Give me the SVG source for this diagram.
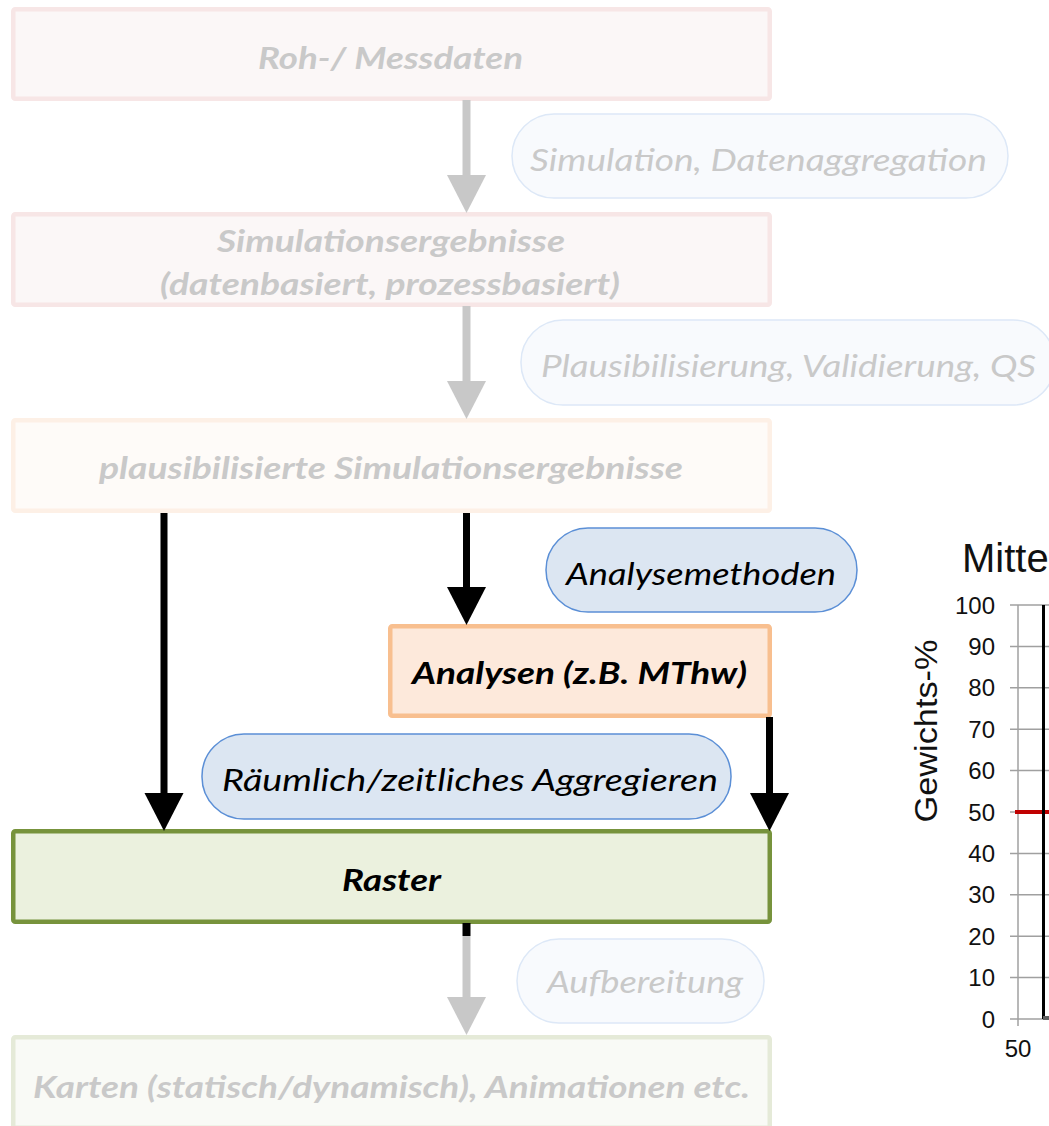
<svg xmlns="http://www.w3.org/2000/svg" width="1049" height="1126" viewBox="0 0 1049 1126">
  <style>
    .box { stroke-width: 4.5; }
    .faded-text { fill: #c9c9c9; }
    .main { font-family: Lato, "Open Sans", "Liberation Sans", sans-serif; font-style: italic; font-size: 31px; }
    .bold { font-weight: 700; }
    .pill-faded { fill: #f8fafd; stroke: #dde8f7; stroke-width: 1.5; }
    .pill { fill: #dce6f2; stroke: #5b8fd6; stroke-width: 1.5; }
    .chart { font-family: "Liberation Sans", Arial, sans-serif; fill: #111; }
    .grid { stroke: #a0a0a0; stroke-width: 1.5; }
  </style>
  <defs>
    <marker id="head-gray" markerUnits="userSpaceOnUse" markerWidth="40" markerHeight="40" refX="0" refY="19.5" orient="auto">
      <path d="M0,0 L38,19.5 L0,39 z" fill="#c8c8c8"/>
    </marker>
    <marker id="head-black" markerUnits="userSpaceOnUse" markerWidth="40" markerHeight="40" refX="0" refY="19.5" orient="auto">
      <path d="M0,0 L38,19.5 L0,39 z" fill="#000"/>
    </marker>
  </defs>

  <rect width="1049" height="1126" fill="#ffffff"/>

  <!-- process boxes -->
  <g id="node-rohdaten">
    <rect class="box" x="13.25" y="9.25" width="756.5" height="89.5" rx="2" fill="#fbf7f7" stroke="#f7e6e6"/>
    <text class="main bold faded-text" x="258" y="69" textLength="265" lengthAdjust="spacingAndGlyphs">Roh-/ Messdaten</text>
  </g>

  <g id="node-simulationsergebnisse">
    <rect class="box" x="13.25" y="214.25" width="756.5" height="90.5" rx="2" fill="#fbf7f7" stroke="#f7e6e6"/>
    <text class="main bold faded-text" x="217" y="252" textLength="348" lengthAdjust="spacingAndGlyphs">Simulationsergebnisse</text>
    <text class="main bold faded-text" x="160" y="295" textLength="460" lengthAdjust="spacingAndGlyphs">(datenbasiert, prozessbasiert)</text>
  </g>

  <g id="node-plausibilisiert">
    <rect class="box" x="13.25" y="420.25" width="756.5" height="90.5" rx="2" fill="#fefbf8" stroke="#fdf0e6"/>
    <text class="main bold faded-text" x="99" y="479" textLength="584" lengthAdjust="spacingAndGlyphs">plausibilisierte Simulationsergebnisse</text>
  </g>

  <g id="node-analysen">
    <rect class="box" x="390.25" y="626.25" width="379.5" height="89.5" rx="2" fill="#fde9db" stroke="#f8bf8f"/>
    <text class="main bold" x="412" y="684" fill="#000" textLength="335" lengthAdjust="spacingAndGlyphs">Analysen (z.B. MThw)</text>
  </g>

  <g id="node-raster">
    <rect class="box" x="13.25" y="831.25" width="756.5" height="90.5" rx="2" fill="#ebf1de" stroke="#77933c"/>
    <text class="main bold" x="342" y="891" fill="#000" textLength="99" lengthAdjust="spacingAndGlyphs">Raster</text>
  </g>

  <g id="node-karten">
    <rect class="box" x="13.25" y="1037.25" width="756.5" height="90.5" rx="2" fill="#f9faf6" stroke="#e5ead8"/>
    <text class="main bold faded-text" x="33" y="1098" textLength="717" lengthAdjust="spacingAndGlyphs">Karten (statisch/dynamisch), Animationen etc.</text>
  </g>

  <!-- step labels (rounded pills) -->
  <g id="label-simulation">
    <rect class="pill-faded" x="512" y="114" width="496" height="84" rx="42"/>
    <text class="main faded-text" x="530" y="171" textLength="457" lengthAdjust="spacingAndGlyphs">Simulation, Datenaggregation</text>
  </g>

  <g id="label-plausibilisierung">
    <rect class="pill-faded" x="521" y="320" width="534" height="85" rx="42"/>
    <text class="main faded-text" x="541" y="377" textLength="495" lengthAdjust="spacingAndGlyphs">Plausibilisierung, Validierung, QS</text>
  </g>

  <g id="label-analysemethoden">
    <rect class="pill" x="546" y="528" width="311" height="84" rx="42"/>
    <text class="main" x="566" y="585" fill="#000" textLength="270" lengthAdjust="spacingAndGlyphs">Analysemethoden</text>
  </g>

  <g id="label-aggregieren">
    <rect class="pill" x="202" y="734" width="529" height="85" rx="42"/>
    <text class="main" x="222" y="791" fill="#000" textLength="496" lengthAdjust="spacingAndGlyphs">Räumlich/zeitliches Aggregieren</text>
  </g>

  <g id="label-aufbereitung">
    <rect class="pill-faded" x="517" y="939" width="247" height="84" rx="42"/>
    <text class="main faded-text" x="547" y="993" textLength="196" lengthAdjust="spacingAndGlyphs">Aufbereitung</text>
  </g>

  <!-- connectors -->
  <g id="connectors" fill="none">
    <line x1="466.5" y1="100" x2="466.5" y2="175" stroke="#c8c8c8" stroke-width="8" marker-end="url(#head-gray)"/>
    <line x1="466.5" y1="306" x2="466.5" y2="381" stroke="#c8c8c8" stroke-width="8" marker-end="url(#head-gray)"/>
    <line x1="466.5" y1="513" x2="466.5" y2="587" stroke="#000" stroke-width="7" marker-end="url(#head-black)"/>
    <line x1="164" y1="513" x2="164" y2="793" stroke="#000" stroke-width="7" marker-end="url(#head-black)"/>
    <line x1="769.5" y1="717" x2="769.5" y2="793" stroke="#000" stroke-width="7" marker-end="url(#head-black)"/>
    <line x1="466.5" y1="923" x2="466.5" y2="936" stroke="#000" stroke-width="8"/>
    <line x1="466.5" y1="936" x2="466.5" y2="997" stroke="#c8c8c8" stroke-width="8" marker-end="url(#head-gray)"/>
  </g>

  <!-- partial chart at the right edge -->
  <g id="chart">
    <text class="chart" x="962" y="572" font-size="40">Mitte</text>
    <text class="chart" font-size="32" transform="translate(937,731) rotate(-90)" text-anchor="middle" textLength="183" lengthAdjust="spacingAndGlyphs">Gewichts-%</text>
    <g class="grid">
      <line x1="1010" y1="605" x2="1049" y2="605"/>
      <line x1="1010" y1="646.4" x2="1049" y2="646.4"/>
      <line x1="1010" y1="687.8" x2="1049" y2="687.8"/>
      <line x1="1010" y1="729.2" x2="1049" y2="729.2"/>
      <line x1="1010" y1="770.6" x2="1049" y2="770.6"/>
      <line x1="1010" y1="812" x2="1049" y2="812"/>
      <line x1="1010" y1="853.4" x2="1049" y2="853.4"/>
      <line x1="1010" y1="894.8" x2="1049" y2="894.8"/>
      <line x1="1010" y1="936.2" x2="1049" y2="936.2"/>
      <line x1="1010" y1="977.6" x2="1049" y2="977.6"/>
      <line x1="1010" y1="1019" x2="1049" y2="1019"/>
      <line x1="1018" y1="605" x2="1018" y2="1026"/>
    </g>
    <g class="chart" font-size="24" text-anchor="end">
      <text x="995" y="613.5">100</text>
      <text x="995" y="654.9">90</text>
      <text x="995" y="696.3">80</text>
      <text x="995" y="737.7">70</text>
      <text x="995" y="779.1">60</text>
      <text x="995" y="820.5">50</text>
      <text x="995" y="861.9">40</text>
      <text x="995" y="903.3">30</text>
      <text x="995" y="944.7">20</text>
      <text x="995" y="986.1">10</text>
      <text x="995" y="1027.5">0</text>
    </g>
    <text class="chart" x="1018" y="1057" font-size="24" text-anchor="middle">50</text>
    <line x1="1015" y1="812" x2="1049" y2="812" stroke="#c00000" stroke-width="4"/>
    <line x1="1043.5" y1="605" x2="1043.5" y2="1019" stroke="#000" stroke-width="3"/>
    <rect x="1043" y="1016" width="6" height="4" fill="#606060"/>
  </g>
</svg>
